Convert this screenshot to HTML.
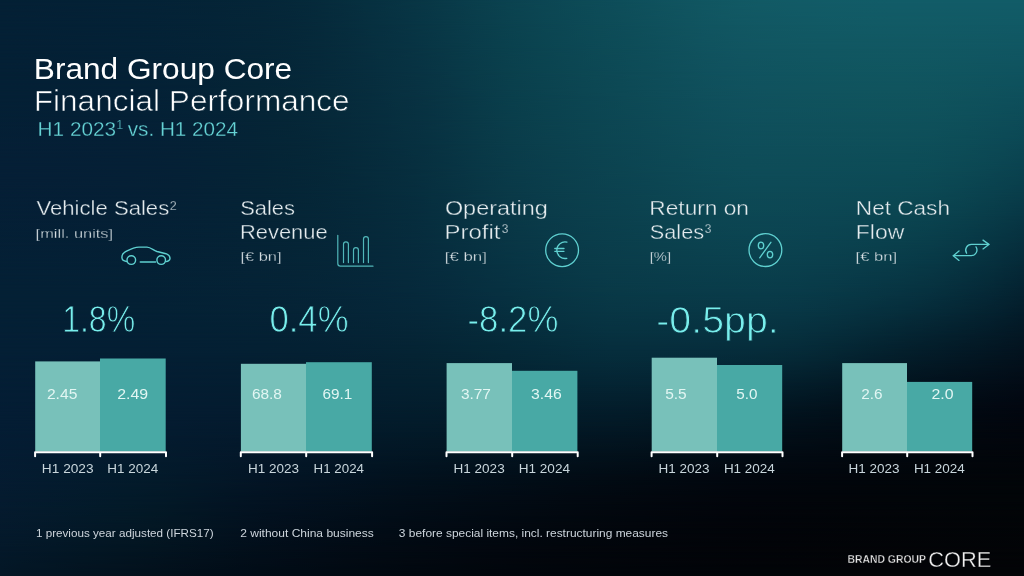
<!DOCTYPE html>
<html lang="en">
<head>
<meta charset="utf-8">
<title>Brand Group Core – Financial Performance H1 2023 vs. H1 2024</title>
<style>
html,body{margin:0;padding:0;background:#03101a;}
body{width:1024px;height:576px;overflow:hidden;position:relative;font-family:"Liberation Sans",Arial,sans-serif;}
.slide{position:absolute;left:0;top:0;width:1024px;height:576px;overflow:hidden;background:#04203a;}
.bg{position:absolute;left:0;top:0;width:1024px;height:576px;}
svg{position:absolute;left:0;top:0;width:1024px;height:576px;display:block;will-change:transform;}
svg text{font-family:"Liberation Sans",Arial,sans-serif;white-space:pre;}
</style>
</head>
<body>
<div class="slide">
<div class="bg" style="background:linear-gradient(to right, rgb(4,32,53) 0px, rgb(4,32.3,53.2) 32px, rgb(4,32.8,53.4) 64px, rgb(4,33.3,53.7) 96px, rgb(4,34,54) 128px, rgb(4,34,54) 130px, rgb(4.1,34.7,54.3) 160px, rgb(4.3,35.5,54.7) 192px, rgb(4.6,36.5,55.2) 224px, rgb(5,37.8,55.9) 256px, rgb(5,38,56) 260px, rgb(5.4,39.8,57.2) 288px, rgb(5.9,42.7,59.5) 320px, rgb(6.5,46.3,62.5) 352px, rgb(7.3,50.2,65.8) 384px, rgb(8,54,69) 415px, rgb(8,54.1,69.1) 416px, rgb(9,58.4,72.7) 448px, rgb(10,63.1,76.6) 480px, rgb(11,67,80) 510px, rgb(11.1,67.2,80.2) 512px, rgb(12,70.7,83.3) 544px, rgb(12.8,73.9,86.2) 576px, rgb(13.7,76.9,89) 608px, rgb(14,78,90) 620px, rgb(14.6,80,91.8) 640px, rgb(15.8,83.3,94.8) 672px, rgb(17,86.5,97.6) 704px, rgb(17.8,89,99.9) 736px, rgb(18,90,101) 760px, rgb(18,90.2,101.3) 768px, rgb(18,90.9,102.3) 800px, rgb(18,91.5,103.1) 832px, rgb(18,91.8,103.7) 864px, rgb(18,92,104) 896px, rgb(18,92,104) 900px, rgb(18,92,104) 928px, rgb(18,92,104) 960px, rgb(18,92,104) 992px, rgb(18,92,104) 1024px);"></div>
<div class="bg" style="background:linear-gradient(to right, rgb(4,32,53) 0px, rgb(4,32.3,53.2) 32px, rgb(4,32.7,53.4) 64px, rgb(4,33.2,53.7) 96px, rgb(4,33.7,54) 128px, rgb(4,33.7,54) 130px, rgb(4.1,34.4,54.3) 160px, rgb(4.3,35.2,54.6) 192px, rgb(4.6,36.3,55.1) 224px, rgb(5,37.6,55.7) 256px, rgb(5,37.7,55.7) 260px, rgb(5.4,39.4,56.9) 288px, rgb(5.9,42.2,59.1) 320px, rgb(6.6,45.5,62) 352px, rgb(7.3,49.2,65.2) 384px, rgb(8,52.9,68.2) 415px, rgb(8,53,68.3) 416px, rgb(8.9,57.3,71.8) 448px, rgb(9.8,62,75.6) 480px, rgb(10.6,66,78.9) 510px, rgb(10.7,66.2,79.1) 512px, rgb(11.6,69.7,82.1) 544px, rgb(12.5,72.8,84.9) 576px, rgb(13.4,75.7,87.6) 608px, rgb(13.7,76.7,88.6) 620px, rgb(14.4,78.6,90.3) 640px, rgb(15.5,81.6,93.3) 672px, rgb(16.5,84.5,96.1) 704px, rgb(17.3,86.7,98.2) 736px, rgb(17.5,87.7,99.1) 760px, rgb(17.5,87.9,99.3) 768px, rgb(17.5,88.7,99.9) 800px, rgb(17.5,89.4,100.5) 832px, rgb(17.6,89.8,100.9) 864px, rgb(17.6,90,101.1) 896px, rgb(17.6,90,101.1) 900px, rgb(17.6,89.9,101.1) 928px, rgb(17.4,89.8,101.1) 960px, rgb(17.2,89.5,101.1) 992px, rgb(17,89.2,101.1) 1024px);-webkit-mask-image:linear-gradient(to bottom, transparent 0px, #000 24px);mask-image:linear-gradient(to bottom, transparent 0px, #000 24px);"></div>
<div class="bg" style="background:linear-gradient(to right, rgb(4,32,53) 0px, rgb(4,32.2,53.2) 32px, rgb(4,32.6,53.4) 64px, rgb(4,33,53.7) 96px, rgb(4,33.5,54) 128px, rgb(4,33.5,54) 130px, rgb(4.1,34,54.3) 160px, rgb(4.3,34.9,54.6) 192px, rgb(4.6,36,54.9) 224px, rgb(5,37.3,55.4) 256px, rgb(5,37.5,55.5) 260px, rgb(5.4,39.1,56.5) 288px, rgb(6,41.7,58.6) 320px, rgb(6.6,44.8,61.4) 352px, rgb(7.3,48.3,64.5) 384px, rgb(8,51.8,67.4) 415px, rgb(8,51.9,67.5) 416px, rgb(8.9,56.2,70.9) 448px, rgb(9.6,61,74.6) 480px, rgb(10.3,64.9,77.8) 510px, rgb(10.3,65.2,78) 512px, rgb(11.2,68.6,80.9) 544px, rgb(12.2,71.6,83.7) 576px, rgb(13.2,74.4,86.3) 608px, rgb(13.5,75.4,87.3) 620px, rgb(14.1,77.1,88.9) 640px, rgb(15.1,79.9,91.8) 672px, rgb(16.1,82.6,94.5) 704px, rgb(16.8,84.6,96.5) 736px, rgb(17,85.6,97.2) 760px, rgb(17,85.8,97.3) 768px, rgb(17,86.6,97.7) 800px, rgb(17,87.2,98) 832px, rgb(17,87.7,98.2) 864px, rgb(17.1,87.9,98.4) 896px, rgb(17.1,87.9,98.4) 900px, rgb(17,87.8,98.4) 928px, rgb(16.8,87.4,98.3) 960px, rgb(16.4,86.8,98.1) 992px, rgb(15.9,86.1,97.9) 1024px);-webkit-mask-image:linear-gradient(to bottom, transparent 24px, #000 48px);mask-image:linear-gradient(to bottom, transparent 24px, #000 48px);"></div>
<div class="bg" style="background:linear-gradient(to right, rgb(4,32,53) 0px, rgb(4,32.2,53.2) 32px, rgb(4,32.4,53.5) 64px, rgb(4,32.8,53.7) 96px, rgb(4,33.2,54) 128px, rgb(4,33.2,54) 130px, rgb(4.1,33.7,54.2) 160px, rgb(4.3,34.6,54.5) 192px, rgb(4.6,35.7,54.7) 224px, rgb(5,37,55.1) 256px, rgb(5,37.2,55.2) 260px, rgb(5.4,38.8,56.1) 288px, rgb(6,41.2,58.1) 320px, rgb(6.6,44.1,60.8) 352px, rgb(7.3,47.4,63.8) 384px, rgb(8,50.7,66.6) 415px, rgb(8,50.9,66.7) 416px, rgb(8.8,55.1,70) 448px, rgb(9.4,59.9,73.6) 480px, rgb(10.1,63.8,76.7) 510px, rgb(10.1,64.1,76.9) 512px, rgb(11,67.4,79.8) 544px, rgb(12,70.4,82.5) 576px, rgb(12.9,73.1,85) 608px, rgb(13.2,74,86) 620px, rgb(13.8,75.7,87.6) 640px, rgb(14.7,78.3,90.4) 672px, rgb(15.6,80.7,93) 704px, rgb(16.3,82.6,94.8) 736px, rgb(16.4,83.5,95.4) 760px, rgb(16.4,83.7,95.4) 768px, rgb(16.4,84.5,95.5) 800px, rgb(16.4,85.1,95.6) 832px, rgb(16.5,85.5,95.7) 864px, rgb(16.5,85.7,95.8) 896px, rgb(16.5,85.7,95.8) 900px, rgb(16.4,85.5,95.8) 928px, rgb(16,84.9,95.5) 960px, rgb(15.5,83.9,95.1) 992px, rgb(14.8,82.7,94.6) 1024px);-webkit-mask-image:linear-gradient(to bottom, transparent 48px, #000 72px);mask-image:linear-gradient(to bottom, transparent 48px, #000 72px);"></div>
<div class="bg" style="background:linear-gradient(to right, rgb(4,32,53) 0px, rgb(4,32.1,53.2) 32px, rgb(4,32.3,53.5) 64px, rgb(4,32.6,53.7) 96px, rgb(4,33,54) 128px, rgb(4,33,54) 130px, rgb(4.1,33.5,54.2) 160px, rgb(4.3,34.4,54.4) 192px, rgb(4.6,35.5,54.6) 224px, rgb(5,36.8,54.9) 256px, rgb(5,37,55) 260px, rgb(5.4,38.5,55.8) 288px, rgb(6,40.8,57.7) 320px, rgb(6.6,43.6,60.3) 352px, rgb(7.3,46.8,63.2) 384px, rgb(8,50,66) 415px, rgb(8,50.1,66.1) 416px, rgb(8.7,54.3,69.3) 448px, rgb(9.3,59.1,72.9) 480px, rgb(10,63,76) 510px, rgb(10,63.2,76.2) 512px, rgb(10.9,66.5,79) 544px, rgb(11.8,69.4,81.7) 576px, rgb(12.7,72.1,84.1) 608px, rgb(13,73,85) 620px, rgb(13.5,74.6,86.6) 640px, rgb(14.4,77.1,89.3) 672px, rgb(15.3,79.4,91.8) 704px, rgb(15.8,81.2,93.5) 736px, rgb(16,82,94) 760px, rgb(16,82.2,94) 768px, rgb(16,82.9,94) 800px, rgb(16,83.4,94) 832px, rgb(16,83.8,94) 864px, rgb(16,84,94) 896px, rgb(16,84,94) 900px, rgb(15.9,83.7,93.9) 928px, rgb(15.4,82.9,93.4) 960px, rgb(14.7,81.6,92.7) 992px, rgb(14,80,92) 1024px);-webkit-mask-image:linear-gradient(to bottom, transparent 72px, #000 90px);mask-image:linear-gradient(to bottom, transparent 72px, #000 90px);"></div>
<div class="bg" style="background:linear-gradient(to right, rgb(4,32,53) 0px, rgb(4,32,53.3) 32px, rgb(4,32.2,53.5) 64px, rgb(4,32.5,53.7) 96px, rgb(4,32.9,54) 128px, rgb(4,32.9,54) 130px, rgb(4.1,33.4,54.2) 160px, rgb(4.3,34.3,54.4) 192px, rgb(4.6,35.4,54.6) 224px, rgb(5,36.8,54.9) 256px, rgb(5,36.9,54.9) 260px, rgb(5.4,38.4,55.7) 288px, rgb(5.9,40.7,57.6) 320px, rgb(6.6,43.5,60.2) 352px, rgb(7.3,46.6,63) 384px, rgb(8,49.8,65.8) 415px, rgb(8,49.9,65.9) 416px, rgb(8.6,54,69.1) 448px, rgb(9.3,58.8,72.7) 480px, rgb(10,62.7,75.8) 510px, rgb(10,62.9,75.9) 512px, rgb(10.9,66.2,78.8) 544px, rgb(11.8,69.1,81.4) 576px, rgb(12.6,71.7,83.8) 608px, rgb(12.9,72.6,84.7) 620px, rgb(13.4,74.2,86.2) 640px, rgb(14.3,76.7,88.9) 672px, rgb(15.1,79,91.4) 704px, rgb(15.7,80.7,93.1) 736px, rgb(15.9,81.5,93.5) 760px, rgb(15.9,81.7,93.5) 768px, rgb(15.9,82.4,93.5) 800px, rgb(15.8,82.9,93.5) 832px, rgb(15.8,83.3,93.5) 864px, rgb(15.8,83.4,93.4) 896px, rgb(15.8,83.4,93.4) 900px, rgb(15.7,83.2,93.3) 928px, rgb(15.2,82.2,92.7) 960px, rgb(14.5,80.8,92) 992px, rgb(13.7,79.1,91.1) 1024px);-webkit-mask-image:linear-gradient(to bottom, transparent 90px, #000 96px);mask-image:linear-gradient(to bottom, transparent 90px, #000 96px);"></div>
<div class="bg" style="background:linear-gradient(to right, rgb(4.3,31.7,53.3) 0px, rgb(4.3,31.7,53.5) 32px, rgb(4.3,31.9,53.7) 64px, rgb(4.3,32.2,53.8) 96px, rgb(4.3,32.5,54) 128px, rgb(4.3,32.5,54) 130px, rgb(4.4,33.1,54.1) 160px, rgb(4.5,33.9,54.3) 192px, rgb(4.7,35.1,54.4) 224px, rgb(5,36.4,54.5) 256px, rgb(5,36.6,54.5) 260px, rgb(5.3,38.1,55.2) 288px, rgb(5.8,40.3,57) 320px, rgb(6.4,42.9,59.4) 352px, rgb(7.1,45.8,62.2) 384px, rgb(7.8,48.9,64.9) 415px, rgb(7.8,49,65) 416px, rgb(8.4,53,68.2) 448px, rgb(9.2,57.8,71.8) 480px, rgb(10,61.6,74.9) 510px, rgb(10,61.8,75.1) 512px, rgb(10.8,65,77.8) 544px, rgb(11.6,67.8,80.4) 576px, rgb(12.4,70.3,82.7) 608px, rgb(12.7,71.2,83.5) 620px, rgb(13.1,72.7,85) 640px, rgb(13.9,75.2,87.5) 672px, rgb(14.7,77.5,89.9) 704px, rgb(15.2,79.1,91.5) 736px, rgb(15.3,79.8,91.8) 760px, rgb(15.3,79.9,91.8) 768px, rgb(15.3,80.4,91.8) 800px, rgb(15.2,80.8,91.7) 832px, rgb(15.1,81.1,91.6) 864px, rgb(15,81.3,91.5) 896px, rgb(15,81.3,91.4) 900px, rgb(14.8,80.9,91.1) 928px, rgb(14.2,79.6,90.2) 960px, rgb(13.4,77.6,89) 992px, rgb(12.5,75.2,87.5) 1024px);-webkit-mask-image:linear-gradient(to bottom, transparent 96px, #000 120px);mask-image:linear-gradient(to bottom, transparent 96px, #000 120px);"></div>
<div class="bg" style="background:linear-gradient(to right, rgb(4.8,31.2,53.8) 0px, rgb(4.8,31.3,53.8) 32px, rgb(4.8,31.5,53.9) 64px, rgb(4.8,31.8,53.9) 96px, rgb(4.8,32.2,54) 128px, rgb(4.8,32.2,54) 130px, rgb(4.8,32.7,54.1) 160px, rgb(4.8,33.6,54.1) 192px, rgb(4.9,34.8,54.2) 224px, rgb(5,36.1,54.2) 256px, rgb(5,36.3,54.2) 260px, rgb(5.2,37.7,54.7) 288px, rgb(5.5,39.8,56.3) 320px, rgb(6.1,42.3,58.7) 352px, rgb(6.7,45.1,61.4) 384px, rgb(7.4,48,64) 415px, rgb(7.4,48.1,64) 416px, rgb(8.2,52.1,67.2) 448px, rgb(9.2,56.7,71) 480px, rgb(10,60.4,74.1) 510px, rgb(10,60.6,74.2) 512px, rgb(10.8,63.7,76.9) 544px, rgb(11.5,66.4,79.4) 576px, rgb(12.1,68.9,81.6) 608px, rgb(12.4,69.8,82.4) 620px, rgb(12.8,71.2,83.8) 640px, rgb(13.5,73.7,86.1) 672px, rgb(14.1,76,88.3) 704px, rgb(14.6,77.6,89.8) 736px, rgb(14.7,78.1,90.1) 760px, rgb(14.7,78.2,90.1) 768px, rgb(14.7,78.5,90) 800px, rgb(14.5,78.7,89.9) 832px, rgb(14.3,78.9,89.8) 864px, rgb(14.1,79,89.6) 896px, rgb(14.1,79,89.5) 900px, rgb(13.7,78.5,89) 928px, rgb(13.1,76.7,87.6) 960px, rgb(12.3,74.1,85.8) 992px, rgb(11.3,71.1,83.7) 1024px);-webkit-mask-image:linear-gradient(to bottom, transparent 120px, #000 144px);mask-image:linear-gradient(to bottom, transparent 120px, #000 144px);"></div>
<div class="bg" style="background:linear-gradient(to right, rgb(5,31,54) 0px, rgb(5,31.1,54) 32px, rgb(5,31.3,54) 64px, rgb(5,31.6,54) 96px, rgb(5,32,54) 128px, rgb(5,32,54) 130px, rgb(5,32.5,54) 160px, rgb(5,33.4,54) 192px, rgb(5,34.5,54) 224px, rgb(5,35.8,54) 256px, rgb(5,36,54) 260px, rgb(5.1,37.4,54.5) 288px, rgb(5.4,39.3,55.9) 320px, rgb(5.9,41.7,58.1) 352px, rgb(6.4,44.3,60.6) 384px, rgb(7,47.1,63.1) 415px, rgb(7,47.2,63.1) 416px, rgb(7.9,51,66.3) 448px, rgb(9.1,55.5,70) 480px, rgb(10,59.1,73.1) 510px, rgb(10,59.3,73.3) 512px, rgb(10.7,62.3,75.9) 544px, rgb(11.3,64.9,78.3) 576px, rgb(11.8,67.3,80.4) 608px, rgb(12,68.1,81.1) 620px, rgb(12.4,69.6,82.4) 640px, rgb(13,72,84.6) 672px, rgb(13.6,74.3,86.5) 704px, rgb(14,75.8,87.8) 736px, rgb(14.1,76.2,88.2) 760px, rgb(14.1,76.2,88.2) 768px, rgb(14,76.2,88.1) 800px, rgb(13.7,76.2,87.9) 832px, rgb(13.5,76.2,87.6) 864px, rgb(13.1,76.3,87.3) 896px, rgb(13.1,76.3,87.2) 900px, rgb(12.7,75.6,86.4) 928px, rgb(12,73.3,84.6) 960px, rgb(11.1,70.1,82.2) 992px, rgb(10.1,66.4,79.4) 1024px);-webkit-mask-image:linear-gradient(to bottom, transparent 144px, #000 168px);mask-image:linear-gradient(to bottom, transparent 144px, #000 168px);"></div>
<div class="bg" style="background:linear-gradient(to right, rgb(5,31,54) 0px, rgb(5,31.1,54) 32px, rgb(5,31.3,54) 64px, rgb(5,31.6,54) 96px, rgb(5,32,54) 128px, rgb(5,32,54) 130px, rgb(5,32.5,54) 160px, rgb(5,33.4,54) 192px, rgb(5,34.5,54) 224px, rgb(5,35.8,54) 256px, rgb(5,36,54) 260px, rgb(5.1,37.4,54.5) 288px, rgb(5.4,39.3,55.9) 320px, rgb(5.9,41.6,58) 352px, rgb(6.4,44.2,60.5) 384px, rgb(7,47,63) 415px, rgb(7,47.1,63.1) 416px, rgb(7.9,50.9,66.2) 448px, rgb(9.1,55.4,69.9) 480px, rgb(10,59,73) 510px, rgb(10,59.2,73.2) 512px, rgb(10.7,62.2,75.8) 544px, rgb(11.3,64.8,78.2) 576px, rgb(11.8,67.2,80.3) 608px, rgb(12,68,81) 620px, rgb(12.3,69.4,82.3) 640px, rgb(13,71.9,84.4) 672px, rgb(13.5,74.1,86.3) 704px, rgb(13.9,75.6,87.7) 736px, rgb(14,76,88) 760px, rgb(14,76,88) 768px, rgb(13.9,76,87.9) 800px, rgb(13.7,76,87.7) 832px, rgb(13.4,76,87.4) 864px, rgb(13,76,87.1) 896px, rgb(13,76,87) 900px, rgb(12.6,75.3,86.2) 928px, rgb(11.9,73,84.4) 960px, rgb(11,69.7,81.9) 992px, rgb(10,66,79) 1024px);-webkit-mask-image:linear-gradient(to bottom, transparent 168px, #000 170px);mask-image:linear-gradient(to bottom, transparent 168px, #000 170px);"></div>
<div class="bg" style="background:linear-gradient(to right, rgb(4.9,31.1,53.9) 0px, rgb(4.9,31.2,53.9) 32px, rgb(4.9,31.4,53.9) 64px, rgb(4.9,31.7,54) 96px, rgb(4.9,32.1,54) 128px, rgb(4.9,32.1,54) 130px, rgb(4.9,32.6,53.9) 160px, rgb(5,33.4,53.9) 192px, rgb(5,34.5,53.9) 224px, rgb(5,35.7,54) 256px, rgb(5,35.8,54) 260px, rgb(5.1,37.1,54.5) 288px, rgb(5.4,38.9,55.8) 320px, rgb(5.8,41,57.7) 352px, rgb(6.3,43.5,60) 384px, rgb(6.8,46.1,62.3) 415px, rgb(6.8,46.2,62.4) 416px, rgb(7.7,49.8,65.4) 448px, rgb(8.9,54.1,69) 480px, rgb(9.9,57.6,72) 510px, rgb(9.9,57.8,72.1) 512px, rgb(10.5,60.7,74.7) 544px, rgb(11,63.4,77) 576px, rgb(11.5,65.7,79) 608px, rgb(11.6,66.4,79.7) 620px, rgb(11.9,67.8,80.8) 640px, rgb(12.4,70.1,82.8) 672px, rgb(12.9,72.1,84.5) 704px, rgb(13.2,73.5,85.7) 736px, rgb(13.3,73.8,86) 760px, rgb(13.3,73.8,86) 768px, rgb(13.2,73.6,85.8) 800px, rgb(12.9,73.4,85.5) 832px, rgb(12.5,73.1,85) 864px, rgb(12.1,72.9,84.4) 896px, rgb(12.1,72.9,84.3) 900px, rgb(11.6,71.9,83.2) 928px, rgb(10.8,69.2,80.9) 960px, rgb(9.9,65.4,77.9) 992px, rgb(8.9,61.1,74.4) 1024px);-webkit-mask-image:linear-gradient(to bottom, transparent 170px, #000 192px);mask-image:linear-gradient(to bottom, transparent 170px, #000 192px);"></div>
<div class="bg" style="background:linear-gradient(to right, rgb(4.7,31.3,53.7) 0px, rgb(4.7,31.4,53.8) 32px, rgb(4.7,31.6,53.8) 64px, rgb(4.7,31.9,53.8) 96px, rgb(4.7,32.3,53.8) 128px, rgb(4.7,32.3,53.8) 130px, rgb(4.8,32.8,53.8) 160px, rgb(4.9,33.5,53.8) 192px, rgb(5,34.4,53.9) 224px, rgb(5,35.5,54) 256px, rgb(5,35.7,54) 260px, rgb(5.1,36.9,54.5) 288px, rgb(5.4,38.5,55.7) 320px, rgb(5.7,40.5,57.5) 352px, rgb(6.2,42.7,59.6) 384px, rgb(6.6,45.1,61.7) 415px, rgb(6.7,45.2,61.8) 416px, rgb(7.4,48.6,64.6) 448px, rgb(8.5,52.6,68) 480px, rgb(9.4,56,70.8) 510px, rgb(9.5,56.2,70.9) 512px, rgb(10.1,59.1,73.4) 544px, rgb(10.6,61.8,75.6) 576px, rgb(11,64,77.5) 608px, rgb(11.2,64.7,78.1) 620px, rgb(11.4,65.9,79.1) 640px, rgb(11.8,67.9,80.8) 672px, rgb(12.1,69.7,82.3) 704px, rgb(12.4,70.8,83.3) 736px, rgb(12.4,71.1,83.6) 760px, rgb(12.4,71,83.6) 768px, rgb(12.3,70.7,83.4) 800px, rgb(12,70.2,82.8) 832px, rgb(11.5,69.6,82) 864px, rgb(11,68.9,81) 896px, rgb(11,68.8,80.9) 900px, rgb(10.4,67.5,79.4) 928px, rgb(9.6,64.3,76.6) 960px, rgb(8.7,59.9,72.9) 992px, rgb(7.5,55,68.6) 1024px);-webkit-mask-image:linear-gradient(to bottom, transparent 192px, #000 216px);mask-image:linear-gradient(to bottom, transparent 192px, #000 216px);"></div>
<div class="bg" style="background:linear-gradient(to right, rgb(4.4,31.6,53.4) 0px, rgb(4.4,31.7,53.5) 32px, rgb(4.4,31.9,53.6) 64px, rgb(4.4,32.2,53.6) 96px, rgb(4.4,32.6,53.6) 128px, rgb(4.4,32.6,53.6) 130px, rgb(4.5,33,53.6) 160px, rgb(4.7,33.6,53.7) 192px, rgb(4.9,34.4,53.8) 224px, rgb(5,35.4,54) 256px, rgb(5,35.5,54) 260px, rgb(5.1,36.6,54.5) 288px, rgb(5.4,38.1,55.6) 320px, rgb(5.7,39.9,57.3) 352px, rgb(6.1,41.9,59.2) 384px, rgb(6.5,44.1,61.1) 415px, rgb(6.5,44.1,61.2) 416px, rgb(7.1,47.2,63.8) 448px, rgb(8,51,66.8) 480px, rgb(8.8,54.2,69.4) 510px, rgb(8.8,54.4,69.5) 512px, rgb(9.5,57.3,71.9) 544px, rgb(10.1,60,74) 576px, rgb(10.5,62.2,75.8) 608px, rgb(10.6,62.8,76.4) 620px, rgb(10.8,63.8,77.2) 640px, rgb(11.1,65.4,78.6) 672px, rgb(11.3,66.9,79.9) 704px, rgb(11.4,67.8,80.7) 736px, rgb(11.5,68,81) 760px, rgb(11.5,68,81) 768px, rgb(11.3,67.5,80.6) 800px, rgb(10.9,66.7,79.7) 832px, rgb(10.4,65.6,78.5) 864px, rgb(9.9,64.3,77.1) 896px, rgb(9.8,64.2,76.9) 900px, rgb(9.3,62.3,75) 928px, rgb(8.4,58.7,71.7) 960px, rgb(7.4,53.9,67.4) 992px, rgb(6.3,48.4,62.4) 1024px);-webkit-mask-image:linear-gradient(to bottom, transparent 216px, #000 240px);mask-image:linear-gradient(to bottom, transparent 216px, #000 240px);"></div>
<div class="bg" style="background:linear-gradient(to right, rgb(4.2,31.8,53.2) 0px, rgb(4.2,32,53.3) 32px, rgb(4.2,32.2,53.3) 64px, rgb(4.2,32.5,53.3) 96px, rgb(4.2,32.8,53.4) 128px, rgb(4.2,32.8,53.4) 130px, rgb(4.3,33.2,53.4) 160px, rgb(4.6,33.7,53.6) 192px, rgb(4.8,34.4,53.7) 224px, rgb(5,35.3,54) 256px, rgb(5,35.4,54) 260px, rgb(5.2,36.3,54.5) 288px, rgb(5.4,37.6,55.5) 320px, rgb(5.7,39.2,57) 352px, rgb(6,40.9,58.7) 384px, rgb(6.3,42.9,60.4) 415px, rgb(6.3,42.9,60.5) 416px, rgb(6.8,45.7,62.7) 448px, rgb(7.4,49.2,65.4) 480px, rgb(8,52.2,67.7) 510px, rgb(8,52.3,67.9) 512px, rgb(8.7,55.2,70.1) 544px, rgb(9.4,58,72.2) 576px, rgb(9.9,60.1,73.9) 608px, rgb(10,60.6,74.3) 620px, rgb(10.1,61.4,75) 640px, rgb(10.2,62.6,76.1) 672px, rgb(10.4,63.6,77.1) 704px, rgb(10.4,64.3,77.7) 736px, rgb(10.5,64.5,77.9) 760px, rgb(10.5,64.4,77.9) 768px, rgb(10.3,63.8,77.4) 800px, rgb(9.8,62.6,76.1) 832px, rgb(9.3,61,74.5) 864px, rgb(8.7,59.2,72.5) 896px, rgb(8.6,58.9,72.3) 900px, rgb(8.1,56.6,70) 928px, rgb(7.2,52.6,66.2) 960px, rgb(6.2,47.5,61.4) 992px, rgb(5.1,41.7,55.9) 1024px);-webkit-mask-image:linear-gradient(to bottom, transparent 240px, #000 264px);mask-image:linear-gradient(to bottom, transparent 240px, #000 264px);"></div>
<div class="bg" style="background:linear-gradient(to right, rgb(4,32,53) 0px, rgb(4,32.1,53.1) 32px, rgb(4,32.4,53.1) 64px, rgb(4,32.7,53.1) 96px, rgb(4,33,53.1) 128px, rgb(4,33,53.1) 130px, rgb(4.1,33.3,53.2) 160px, rgb(4.4,33.8,53.4) 192px, rgb(4.7,34.3,53.6) 224px, rgb(5,35,54) 256px, rgb(5,35.1,54) 260px, rgb(5.2,35.9,54.5) 288px, rgb(5.4,37,55.4) 320px, rgb(5.6,38.3,56.6) 352px, rgb(5.8,39.8,58) 384px, rgb(6.1,41.5,59.4) 415px, rgb(6.1,41.6,59.5) 416px, rgb(6.4,44,61.4) 448px, rgb(6.8,47.1,63.7) 480px, rgb(7.2,49.8,65.8) 510px, rgb(7.3,50,65.9) 512px, rgb(7.9,52.8,68) 544px, rgb(8.7,55.5,70) 576px, rgb(9.2,57.6,71.5) 608px, rgb(9.3,58,71.9) 620px, rgb(9.3,58.5,72.4) 640px, rgb(9.3,59.3,73.2) 672px, rgb(9.4,60,73.8) 704px, rgb(9.4,60.3,74.2) 736px, rgb(9.4,60.5,74.3) 760px, rgb(9.4,60.4,74.3) 768px, rgb(9.1,59.6,73.5) 800px, rgb(8.7,58,71.9) 832px, rgb(8.1,55.8,69.7) 864px, rgb(7.5,53.4,67.3) 896px, rgb(7.4,53.1,66.9) 900px, rgb(6.8,50.4,64.3) 928px, rgb(6.1,46.1,60.1) 960px, rgb(5.2,41,55) 992px, rgb(4.2,35.1,49.2) 1024px);-webkit-mask-image:linear-gradient(to bottom, transparent 264px, #000 288px);mask-image:linear-gradient(to bottom, transparent 264px, #000 288px);"></div>
<div class="bg" style="background:linear-gradient(to right, rgb(4,32,53) 0px, rgb(4,32.2,53) 32px, rgb(4,32.4,53) 64px, rgb(4,32.7,53) 96px, rgb(4,33,53) 128px, rgb(4,33,53) 130px, rgb(4.1,33.3,53.1) 160px, rgb(4.4,33.8,53.3) 192px, rgb(4.7,34.3,53.6) 224px, rgb(5,34.9,54) 256px, rgb(5,35,54) 260px, rgb(5.2,35.7,54.5) 288px, rgb(5.4,36.7,55.3) 320px, rgb(5.6,37.9,56.4) 352px, rgb(5.8,39.4,57.7) 384px, rgb(6,41,59) 415px, rgb(6,41.1,59) 416px, rgb(6.3,43.4,60.8) 448px, rgb(6.6,46.4,63) 480px, rgb(7,49,65) 510px, rgb(7,49.2,65.1) 512px, rgb(7.7,51.9,67.1) 544px, rgb(8.4,54.6,69.1) 576px, rgb(8.9,56.6,70.6) 608px, rgb(9,57,71) 620px, rgb(9,57.5,71.5) 640px, rgb(9,58.1,72.1) 672px, rgb(9,58.6,72.6) 704px, rgb(9,58.9,72.9) 736px, rgb(9,59,73) 760px, rgb(9,59,73) 768px, rgb(8.8,58.1,72.1) 800px, rgb(8.3,56.3,70.3) 832px, rgb(7.7,54,68) 864px, rgb(7.1,51.3,65.3) 896px, rgb(7,51,65) 900px, rgb(6.4,48.2,62.2) 928px, rgb(5.7,43.9,57.9) 960px, rgb(4.9,38.8,52.8) 992px, rgb(4,33,47) 1024px);-webkit-mask-image:linear-gradient(to bottom, transparent 288px, #000 296px);mask-image:linear-gradient(to bottom, transparent 288px, #000 296px);"></div>
<div class="bg" style="background:linear-gradient(to right, rgb(4,31.9,53) 0px, rgb(4,32,52.9) 32px, rgb(4,32.2,52.9) 64px, rgb(4,32.4,52.8) 96px, rgb(4,32.7,52.8) 128px, rgb(4,32.7,52.8) 130px, rgb(4.1,33,52.8) 160px, rgb(4.2,33.4,52.9) 192px, rgb(4.5,33.9,53.2) 224px, rgb(4.8,34.4,53.5) 256px, rgb(4.8,34.5,53.6) 260px, rgb(5,35,54) 288px, rgb(5.2,35.9,54.6) 320px, rgb(5.4,37,55.5) 352px, rgb(5.6,38.3,56.4) 384px, rgb(5.8,39.8,57.5) 415px, rgb(5.8,39.8,57.5) 416px, rgb(6,41.9,59.1) 448px, rgb(6.2,44.6,61.1) 480px, rgb(6.4,47,62.9) 510px, rgb(6.5,47.2,63.1) 512px, rgb(7,49.7,65) 544px, rgb(7.7,52.3,67) 576px, rgb(8.2,54.1,68.4) 608px, rgb(8.2,54.4,68.7) 620px, rgb(8.2,54.8,69) 640px, rgb(8.2,55.2,69.4) 672px, rgb(8.2,55.5,69.7) 704px, rgb(8.2,55.6,69.8) 736px, rgb(8.2,55.6,69.7) 760px, rgb(8.2,55.5,69.7) 768px, rgb(7.9,54.4,68.5) 800px, rgb(7.4,52.2,66.3) 832px, rgb(6.8,49.4,63.4) 864px, rgb(6.2,46.3,60.4) 896px, rgb(6.1,46,60) 900px, rgb(5.6,43,57) 928px, rgb(5,38.8,52.7) 960px, rgb(4.3,34,47.8) 992px, rgb(3.6,28.7,42.3) 1024px);-webkit-mask-image:linear-gradient(to bottom, transparent 296px, #000 312px);mask-image:linear-gradient(to bottom, transparent 296px, #000 312px);"></div>
<div class="bg" style="background:linear-gradient(to right, rgb(4,31.3,53) 0px, rgb(4,31.4,52.8) 32px, rgb(4,31.5,52.7) 64px, rgb(4,31.5,52.5) 96px, rgb(4,31.6,52.3) 128px, rgb(4,31.6,52.3) 130px, rgb(4,31.8,52.2) 160px, rgb(4,32.1,52) 192px, rgb(4.1,32.5,51.9) 224px, rgb(4.2,32.9,52) 256px, rgb(4.2,32.9,52) 260px, rgb(4.3,33.4,52.2) 288px, rgb(4.6,34.2,52.5) 320px, rgb(4.9,35.1,52.9) 352px, rgb(5.2,36.2,53.4) 384px, rgb(5.3,37.4,54) 415px, rgb(5.3,37.5,54) 416px, rgb(5.4,39.2,55.2) 448px, rgb(5.4,41.4,57) 480px, rgb(5.5,43.3,58.7) 510px, rgb(5.5,43.5,58.8) 512px, rgb(5.8,45.6,60.7) 544px, rgb(6.4,47.7,62.6) 576px, rgb(6.7,49.1,63.9) 608px, rgb(6.8,49.3,64.1) 620px, rgb(6.8,49.4,64.2) 640px, rgb(6.8,49.5,64.2) 672px, rgb(6.8,49.5,64) 704px, rgb(6.8,49.3,63.7) 736px, rgb(6.8,49.2,63.3) 760px, rgb(6.8,49,63.1) 768px, rgb(6.5,47.4,61.3) 800px, rgb(5.9,44.5,58.2) 832px, rgb(5.3,40.9,54.6) 864px, rgb(4.7,37.4,50.9) 896px, rgb(4.7,37,50.5) 900px, rgb(4.3,34,47.4) 928px, rgb(3.9,30.4,43.5) 960px, rgb(3.5,26.4,39.3) 992px, rgb(3.2,22.3,35) 1024px);-webkit-mask-image:linear-gradient(to bottom, transparent 312px, #000 336px);mask-image:linear-gradient(to bottom, transparent 312px, #000 336px);"></div>
<div class="bg" style="background:linear-gradient(to right, rgb(4,31,53) 0px, rgb(4,31,52.8) 32px, rgb(4,31,52.5) 64px, rgb(4,31,52.3) 96px, rgb(4,31,52) 128px, rgb(4,31,52) 130px, rgb(4,31.1,51.7) 160px, rgb(4,31.3,51.4) 192px, rgb(4,31.6,51.1) 224px, rgb(4,32,51) 256px, rgb(4,32,51) 260px, rgb(4.1,32.4,51) 288px, rgb(4.3,33.1,51.2) 320px, rgb(4.6,33.9,51.4) 352px, rgb(4.9,34.9,51.7) 384px, rgb(5,36,52) 415px, rgb(5,36,52) 416px, rgb(5,37.5,53) 448px, rgb(5,39.4,54.5) 480px, rgb(5,41,56) 510px, rgb(5,41.1,56.1) 512px, rgb(5.2,42.9,57.8) 544px, rgb(5.6,44.8,59.7) 576px, rgb(6,45.9,60.9) 608px, rgb(6,46,61) 620px, rgb(6,46,61) 640px, rgb(6,45.8,60.7) 672px, rgb(6,45.6,60.2) 704px, rgb(6,45.3,59.6) 736px, rgb(6,45,59) 760px, rgb(6,44.8,58.7) 768px, rgb(5.7,43,56.6) 800px, rgb(5.1,39.8,53.2) 832px, rgb(4.5,36,49.2) 864px, rgb(4,32.4,45.4) 896px, rgb(4,32,45) 900px, rgb(3.7,29.2,42) 928px, rgb(3.4,25.9,38.4) 960px, rgb(3.2,22.5,34.8) 992px, rgb(3,19,31) 1024px);-webkit-mask-image:linear-gradient(to bottom, transparent 336px, #000 350px);mask-image:linear-gradient(to bottom, transparent 336px, #000 350px);"></div>
<div class="bg" style="background:linear-gradient(to right, rgb(4,30.8,53) 0px, rgb(4,30.7,52.7) 32px, rgb(4,30.7,52.3) 64px, rgb(4,30.6,52) 96px, rgb(4,30.6,51.7) 128px, rgb(4,30.6,51.7) 130px, rgb(4,30.6,51.4) 160px, rgb(4,30.8,51) 192px, rgb(4,31,50.6) 224px, rgb(4,31.3,50.4) 256px, rgb(4,31.4,50.4) 260px, rgb(4,31.7,50.3) 288px, rgb(4.2,32.4,50.3) 320px, rgb(4.5,33.1,50.4) 352px, rgb(4.7,34,50.6) 384px, rgb(4.7,35,50.8) 415px, rgb(4.7,35,50.8) 416px, rgb(4.7,36.3,51.5) 448px, rgb(4.7,37.8,52.8) 480px, rgb(4.7,39.2,54.1) 510px, rgb(4.7,39.3,54.2) 512px, rgb(4.8,40.9,55.7) 544px, rgb(5.2,42.5,57.4) 576px, rgb(5.5,43.4,58.4) 608px, rgb(5.5,43.5,58.5) 620px, rgb(5.5,43.4,58.3) 640px, rgb(5.5,43.1,57.8) 672px, rgb(5.4,42.6,57.1) 704px, rgb(5.4,42.1,56.2) 736px, rgb(5.4,41.6,55.4) 760px, rgb(5.4,41.4,55.1) 768px, rgb(5.1,39.4,52.8) 800px, rgb(4.6,36.2,49.3) 832px, rgb(4.1,32.5,45.4) 864px, rgb(3.6,29,41.6) 896px, rgb(3.6,28.6,41.2) 900px, rgb(3.4,25.9,38.3) 928px, rgb(3.2,22.9,35) 960px, rgb(3,19.8,31.6) 992px, rgb(2.8,16.7,28.2) 1024px);-webkit-mask-image:linear-gradient(to bottom, transparent 350px, #000 360px);mask-image:linear-gradient(to bottom, transparent 350px, #000 360px);"></div>
<div class="bg" style="background:linear-gradient(to right, rgb(4,30.1,52.7) 0px, rgb(4,29.9,52.2) 32px, rgb(4,29.8,51.8) 64px, rgb(4,29.6,51.3) 96px, rgb(4,29.5,50.9) 128px, rgb(4,29.5,50.8) 130px, rgb(4,29.4,50.4) 160px, rgb(4,29.4,49.8) 192px, rgb(4,29.5,49.3) 224px, rgb(4,29.7,48.9) 256px, rgb(4,29.8,48.9) 260px, rgb(4,30,48.6) 288px, rgb(4,30.5,48.4) 320px, rgb(4,31.1,48.2) 352px, rgb(4,31.8,48) 384px, rgb(4,32.4,47.9) 415px, rgb(4,32.4,47.9) 416px, rgb(4,33.1,48.1) 448px, rgb(3.9,33.8,48.6) 480px, rgb(3.9,34.5,49.1) 510px, rgb(3.9,34.5,49.2) 512px, rgb(4,35.3,49.9) 544px, rgb(4.1,36.1,50.7) 576px, rgb(4.3,36.5,51.1) 608px, rgb(4.3,36.4,51) 620px, rgb(4.3,36.2,50.6) 640px, rgb(4.1,35.3,49.4) 672px, rgb(3.8,34.2,47.9) 704px, rgb(3.6,32.9,46.2) 736px, rgb(3.6,31.9,44.9) 760px, rgb(3.6,31.5,44.4) 768px, rgb(3.4,29.3,41.8) 800px, rgb(3.2,26.4,38.5) 832px, rgb(2.9,23.3,35) 864px, rgb(2.7,20.4,31.8) 896px, rgb(2.7,20.1,31.5) 900px, rgb(2.6,17.9,29.1) 928px, rgb(2.5,15.5,26.4) 960px, rgb(2.4,13.2,23.9) 992px, rgb(2.4,11,21.4) 1024px);-webkit-mask-image:linear-gradient(to bottom, transparent 360px, #000 384px);mask-image:linear-gradient(to bottom, transparent 360px, #000 384px);"></div>
<div class="bg" style="background:linear-gradient(to right, rgb(4,29.3,52.3) 0px, rgb(4,29.1,51.6) 32px, rgb(4,28.9,51) 64px, rgb(4,28.7,50.4) 96px, rgb(4,28.4,49.7) 128px, rgb(4,28.4,49.7) 130px, rgb(4,28.2,49.1) 160px, rgb(4,28.1,48.4) 192px, rgb(4,28,47.7) 224px, rgb(4,28,47.1) 256px, rgb(4,28,47.1) 260px, rgb(4,28.1,46.6) 288px, rgb(3.8,28.5,46.2) 320px, rgb(3.6,28.9,45.7) 352px, rgb(3.3,29.3,45.3) 384px, rgb(3.3,29.6,44.8) 415px, rgb(3.3,29.6,44.8) 416px, rgb(3.3,29.7,44.4) 448px, rgb(3.3,29.6,44.1) 480px, rgb(3.2,29.5,43.8) 510px, rgb(3.2,29.4,43.8) 512px, rgb(3.3,29.5,43.6) 544px, rgb(3.3,29.5,43.5) 576px, rgb(3.3,29.4,43.1) 608px, rgb(3.3,29.2,42.9) 620px, rgb(3.3,28.8,42.2) 640px, rgb(3,27.5,40.5) 672px, rgb(2.6,25.8,38.3) 704px, rgb(2.3,23.9,35.9) 736px, rgb(2.2,22.5,34.2) 760px, rgb(2.2,22,33.7) 768px, rgb(2.2,20,31.2) 800px, rgb(2.2,17.7,28.4) 832px, rgb(2.1,15.4,25.7) 864px, rgb(2.1,13.3,23.3) 896px, rgb(2.1,13.1,23) 900px, rgb(2.1,11.5,21.2) 928px, rgb(2.1,9.8,19.2) 960px, rgb(2.1,8.3,17.4) 992px, rgb(2.1,6.8,15.8) 1024px);-webkit-mask-image:linear-gradient(to bottom, transparent 384px, #000 408px);mask-image:linear-gradient(to bottom, transparent 384px, #000 408px);"></div>
<div class="bg" style="background:linear-gradient(to right, rgb(4,29,52) 0px, rgb(4,28.8,51.3) 32px, rgb(4,28.5,50.5) 64px, rgb(4,28.3,49.8) 96px, rgb(4,28,49) 128px, rgb(4,28,49) 130px, rgb(4,27.7,48.3) 160px, rgb(4,27.4,47.5) 192px, rgb(4,27.1,46.8) 224px, rgb(4,27,46.1) 256px, rgb(4,27,46) 260px, rgb(3.9,27.1,45.4) 288px, rgb(3.7,27.3,44.8) 320px, rgb(3.4,27.6,44.2) 352px, rgb(3.1,27.9,43.6) 384px, rgb(3,28,43) 415px, rgb(3,28,43) 416px, rgb(3,27.8,42.3) 448px, rgb(3,27.4,41.6) 480px, rgb(3,27,41) 510px, rgb(3,27,41) 512px, rgb(3,26.7,40.4) 544px, rgb(3,26.5,39.9) 576px, rgb(3,26.2,39.3) 608px, rgb(3,26,39) 620px, rgb(2.9,25.5,38.3) 640px, rgb(2.7,24.2,36.4) 672px, rgb(2.4,22.3,34.2) 704px, rgb(2.1,20.4,31.7) 736px, rgb(2,19,30) 760px, rgb(2,18.6,29.4) 768px, rgb(2,16.7,27.1) 800px, rgb(2,14.8,24.7) 832px, rgb(2,12.9,22.3) 864px, rgb(2,11.2,20.2) 896px, rgb(2,11,20) 900px, rgb(2,9.7,18.4) 928px, rgb(2,8.4,16.8) 960px, rgb(2,7.1,15.3) 992px, rgb(2,6,14) 1024px);-webkit-mask-image:linear-gradient(to bottom, transparent 408px, #000 420px);mask-image:linear-gradient(to bottom, transparent 408px, #000 420px);"></div>
<div class="bg" style="background:linear-gradient(to right, rgb(4.1,28.7,51.6) 0px, rgb(4,28.5,50.8) 32px, rgb(4,28.2,49.9) 64px, rgb(4,28,49.1) 96px, rgb(3.9,27.7,48.2) 128px, rgb(3.9,27.7,48.2) 130px, rgb(3.9,27.3,47.4) 160px, rgb(4,26.8,46.5) 192px, rgb(4,26.3,45.6) 224px, rgb(4,26,44.8) 256px, rgb(4,25.9,44.7) 260px, rgb(3.8,25.9,44) 288px, rgb(3.5,26,43.2) 320px, rgb(3.2,26.1,42.4) 352px, rgb(2.9,26.2,41.6) 384px, rgb(2.8,26.1,40.7) 415px, rgb(2.8,26.1,40.7) 416px, rgb(2.8,25.7,39.8) 448px, rgb(2.8,25,38.8) 480px, rgb(2.8,24.4,37.9) 510px, rgb(2.8,24.4,37.9) 512px, rgb(2.8,23.9,37) 544px, rgb(2.8,23.5,36.2) 576px, rgb(2.8,23,35.4) 608px, rgb(2.8,22.8,35) 620px, rgb(2.7,22.3,34.3) 640px, rgb(2.5,20.9,32.4) 672px, rgb(2.3,19.2,30.2) 704px, rgb(2.1,17.3,27.9) 736px, rgb(2,16.1,26.3) 760px, rgb(2,15.7,25.8) 768px, rgb(2,14.2,23.7) 800px, rgb(2,12.6,21.6) 832px, rgb(2,11.1,19.6) 864px, rgb(2,9.8,17.9) 896px, rgb(2,9.6,17.7) 900px, rgb(2,8.6,16.3) 928px, rgb(2,7.5,15) 960px, rgb(2,6.6,13.7) 992px, rgb(2,5.8,12.7) 1024px);-webkit-mask-image:linear-gradient(to bottom, transparent 420px, #000 432px);mask-image:linear-gradient(to bottom, transparent 420px, #000 432px);"></div>
<div class="bg" style="background:linear-gradient(to right, rgb(4.4,28.2,50.4) 0px, rgb(4.1,28,49.3) 32px, rgb(3.9,27.8,48.3) 64px, rgb(3.7,27.5,47.2) 96px, rgb(3.6,27.2,46.1) 128px, rgb(3.6,27.2,46) 130px, rgb(3.6,26.6,45) 160px, rgb(3.6,25.6,43.8) 192px, rgb(3.7,24.5,42.6) 224px, rgb(3.7,23.6,41.4) 256px, rgb(3.7,23.5,41.2) 260px, rgb(3.6,23.1,40.1) 288px, rgb(3.2,22.7,38.9) 320px, rgb(2.8,22.4,37.6) 352px, rgb(2.5,22,36.3) 384px, rgb(2.4,21.5,35.1) 415px, rgb(2.4,21.5,35) 416px, rgb(2.4,20.7,33.6) 448px, rgb(2.4,19.7,32.2) 480px, rgb(2.4,18.9,30.8) 510px, rgb(2.4,18.8,30.8) 512px, rgb(2.4,18,29.4) 544px, rgb(2.4,17.2,28.1) 576px, rgb(2.4,16.5,26.9) 608px, rgb(2.4,16.2,26.4) 620px, rgb(2.3,15.6,25.6) 640px, rgb(2.2,14.3,23.9) 672px, rgb(2.1,12.8,22.1) 704px, rgb(2,11.4,20.4) 736px, rgb(2,10.7,19.2) 760px, rgb(2,10.4,18.8) 768px, rgb(2,9.6,17.4) 800px, rgb(2,8.8,16) 832px, rgb(2,8.1,14.8) 864px, rgb(2,7.4,13.7) 896px, rgb(2,7.3,13.5) 900px, rgb(2,6.8,12.7) 928px, rgb(2,6.3,11.8) 960px, rgb(2,5.8,11) 992px, rgb(2,5.4,10.4) 1024px);-webkit-mask-image:linear-gradient(to bottom, transparent 432px, #000 456px);mask-image:linear-gradient(to bottom, transparent 432px, #000 456px);"></div>
<div class="bg" style="background:linear-gradient(to right, rgb(4.8,27.6,48.6) 0px, rgb(4.2,27.5,47.4) 32px, rgb(3.8,27.3,46.2) 64px, rgb(3.4,27,44.9) 96px, rgb(3.2,26.7,43.5) 128px, rgb(3.2,26.7,43.4) 130px, rgb(3.2,25.9,42.1) 160px, rgb(3.2,24.4,40.6) 192px, rgb(3.3,22.7,39) 224px, rgb(3.3,21.2,37.4) 256px, rgb(3.3,21,37.2) 260px, rgb(3.2,20.2,35.8) 288px, rgb(2.9,19.3,34.1) 320px, rgb(2.5,18.5,32.4) 352px, rgb(2.2,17.7,30.7) 384px, rgb(2.1,16.9,29.1) 415px, rgb(2.1,16.9,29) 416px, rgb(2.1,15.9,27.3) 448px, rgb(2.1,14.8,25.6) 480px, rgb(2.1,13.9,24.1) 510px, rgb(2.1,13.8,24) 512px, rgb(2.1,12.8,22.4) 544px, rgb(2.1,11.9,20.8) 576px, rgb(2.1,10.9,19.3) 608px, rgb(2.1,10.6,18.8) 620px, rgb(2.1,10,18) 640px, rgb(2.1,8.9,16.7) 672px, rgb(2,7.8,15.5) 704px, rgb(2,6.9,14.3) 736px, rgb(2,6.6,13.6) 760px, rgb(2,6.5,13.4) 768px, rgb(2,6.3,12.5) 800px, rgb(2,6.1,11.8) 832px, rgb(2,5.9,11.1) 864px, rgb(2,5.8,10.5) 896px, rgb(2,5.7,10.5) 900px, rgb(2,5.6,10) 928px, rgb(2,5.5,9.5) 960px, rgb(2,5.3,9.1) 992px, rgb(2,5.2,8.8) 1024px);-webkit-mask-image:linear-gradient(to bottom, transparent 456px, #000 480px);mask-image:linear-gradient(to bottom, transparent 456px, #000 480px);"></div>
<div class="bg" style="background:linear-gradient(to right, rgb(5,27,47) 0px, rgb(4.3,26.9,45.6) 32px, rgb(3.6,26.7,44.2) 64px, rgb(3.2,26.4,42.7) 96px, rgb(3,26,41.1) 128px, rgb(3,26,41) 130px, rgb(3,25,39.5) 160px, rgb(3,23.1,37.8) 192px, rgb(3,21,36) 224px, rgb(3,19.2,34.2) 256px, rgb(3,19,34) 260px, rgb(2.9,17.9,32.4) 288px, rgb(2.7,16.9,30.5) 320px, rgb(2.4,15.9,28.6) 352px, rgb(2.1,15,26.8) 384px, rgb(2,14,25) 415px, rgb(2,14,24.9) 416px, rgb(2,12.9,23.2) 448px, rgb(2,11.9,21.5) 480px, rgb(2,11,20) 510px, rgb(2,10.9,19.9) 512px, rgb(2,10,18.3) 544px, rgb(2,9.1,16.8) 576px, rgb(2,8.3,15.4) 608px, rgb(2,8,15) 620px, rgb(2,7.5,14.3) 640px, rgb(2,6.6,13.3) 672px, rgb(2,5.7,12.3) 704px, rgb(2,5.2,11.5) 736px, rgb(2,5,11) 760px, rgb(2,5,10.9) 768px, rgb(2,5,10.3) 800px, rgb(2,5,9.8) 832px, rgb(2,5,9.4) 864px, rgb(2,5,9) 896px, rgb(2,5,9) 900px, rgb(2,5,8.7) 928px, rgb(2,5,8.4) 960px, rgb(2,5,8.2) 992px, rgb(2,5,8) 1024px);-webkit-mask-image:linear-gradient(to bottom, transparent 480px, #000 500px);mask-image:linear-gradient(to bottom, transparent 480px, #000 500px);"></div>
<div class="bg" style="background:linear-gradient(to right, rgb(5,26.9,46.7) 0px, rgb(4.3,26.8,45.2) 32px, rgb(3.6,26.6,43.7) 64px, rgb(3.2,26.2,42.2) 96px, rgb(3,25.8,40.6) 128px, rgb(3,25.8,40.5) 130px, rgb(3,24.8,38.9) 160px, rgb(3,22.8,37.2) 192px, rgb(3,20.6,35.4) 224px, rgb(2.9,18.8,33.6) 256px, rgb(2.9,18.6,33.4) 260px, rgb(2.9,17.5,31.8) 288px, rgb(2.6,16.5,29.9) 320px, rgb(2.3,15.5,28) 352px, rgb(2.1,14.5,26.1) 384px, rgb(2,13.6,24.3) 415px, rgb(2,13.5,24.3) 416px, rgb(2,12.5,22.6) 448px, rgb(2,11.5,20.9) 480px, rgb(2,10.6,19.4) 510px, rgb(2,10.5,19.3) 512px, rgb(2,9.7,17.8) 544px, rgb(2,8.8,16.3) 576px, rgb(2,8,15) 608px, rgb(2,7.7,14.6) 620px, rgb(2,7.2,13.9) 640px, rgb(2,6.4,12.9) 672px, rgb(2,5.6,12) 704px, rgb(2,5,11.2) 736px, rgb(2,4.9,10.7) 760px, rgb(2,4.9,10.6) 768px, rgb(2,4.9,10.1) 800px, rgb(2,4.9,9.6) 832px, rgb(2,4.9,9.2) 864px, rgb(2,4.9,8.9) 896px, rgb(2,4.9,8.8) 900px, rgb(2,4.9,8.6) 928px, rgb(2,4.9,8.3) 960px, rgb(2,4.9,8.1) 992px, rgb(2,4.9,7.9) 1024px);-webkit-mask-image:linear-gradient(to bottom, transparent 500px, #000 504px);mask-image:linear-gradient(to bottom, transparent 500px, #000 504px);"></div>
<div class="bg" style="background:linear-gradient(to right, rgb(4.7,25.8,44.3) 0px, rgb(4.1,25.5,42.6) 32px, rgb(3.4,25,40.8) 64px, rgb(3.1,24.5,39.1) 96px, rgb(3,23.9,37.3) 128px, rgb(3,23.8,37.2) 130px, rgb(2.9,22.7,35.5) 160px, rgb(2.8,20.6,33.6) 192px, rgb(2.7,18.4,31.7) 224px, rgb(2.6,16.5,29.9) 256px, rgb(2.6,16.4,29.6) 260px, rgb(2.6,15.2,28) 288px, rgb(2.4,14.1,26.1) 320px, rgb(2.2,13.1,24.2) 352px, rgb(2,12.1,22.3) 384px, rgb(2,11.2,20.6) 415px, rgb(2,11.1,20.6) 416px, rgb(2,10.1,18.9) 448px, rgb(2,9.2,17.4) 480px, rgb(2,8.4,16.1) 510px, rgb(2,8.3,16) 512px, rgb(2,7.7,14.6) 544px, rgb(2,7.1,13.5) 576px, rgb(2,6.5,12.6) 608px, rgb(2,6.3,12.3) 620px, rgb(2,6,11.8) 640px, rgb(2,5.4,11) 672px, rgb(2,4.9,10.3) 704px, rgb(2,4.5,9.7) 736px, rgb(2,4.4,9.3) 760px, rgb(2,4.4,9.2) 768px, rgb(2,4.4,8.8) 800px, rgb(2.1,4.4,8.4) 832px, rgb(2.2,4.4,8.1) 864px, rgb(2.2,4.4,7.9) 896px, rgb(2.2,4.4,7.9) 900px, rgb(2.2,4.5,7.8) 928px, rgb(2.2,4.5,7.6) 960px, rgb(2.2,4.5,7.5) 992px, rgb(2.2,4.6,7.4) 1024px);-webkit-mask-image:linear-gradient(to bottom, transparent 504px, #000 528px);mask-image:linear-gradient(to bottom, transparent 504px, #000 528px);"></div>
<div class="bg" style="background:linear-gradient(to right, rgb(4,24.5,41.3) 0px, rgb(3.6,23.6,39.3) 32px, rgb(3.2,22.7,37.3) 64px, rgb(3,21.8,35.3) 96px, rgb(3,20.8,33.4) 128px, rgb(3,20.8,33.3) 130px, rgb(2.9,19.5,31.5) 160px, rgb(2.6,17.7,29.7) 192px, rgb(2.4,15.9,27.9) 224px, rgb(2.3,14.3,26.1) 256px, rgb(2.3,14.1,25.9) 260px, rgb(2.3,13.1,24.3) 288px, rgb(2.2,12,22.5) 320px, rgb(2.1,11.1,20.7) 352px, rgb(2,10.1,19) 384px, rgb(2,9.2,17.5) 415px, rgb(2,9.2,17.4) 416px, rgb(2,8.3,16) 448px, rgb(2,7.4,14.6) 480px, rgb(2,6.7,13.4) 510px, rgb(2,6.6,13.4) 512px, rgb(2,6.2,12.3) 544px, rgb(2,5.8,11.5) 576px, rgb(2,5.5,10.9) 608px, rgb(2,5.4,10.6) 620px, rgb(2,5.1,10.2) 640px, rgb(2,4.8,9.7) 672px, rgb(2,4.4,9.1) 704px, rgb(2,4.2,8.6) 736px, rgb(2,4.1,8.4) 760px, rgb(2,4.1,8.3) 768px, rgb(2.1,4.1,7.9) 800px, rgb(2.3,4.1,7.6) 832px, rgb(2.5,4.1,7.4) 864px, rgb(2.5,4.1,7.3) 896px, rgb(2.5,4.1,7.2) 900px, rgb(2.5,4.1,7.2) 928px, rgb(2.5,4.1,7.2) 960px, rgb(2.5,4.2,7.1) 992px, rgb(2.5,4.3,7.1) 1024px);-webkit-mask-image:linear-gradient(to bottom, transparent 528px, #000 552px);mask-image:linear-gradient(to bottom, transparent 528px, #000 552px);"></div>
<div class="bg" style="background:linear-gradient(to right, rgb(3,23,38) 0px, rgb(3,21.4,35.6) 32px, rgb(3,19.9,33.3) 64px, rgb(3,18.5,31.1) 96px, rgb(3,17.1,29.1) 128px, rgb(3,17,29) 130px, rgb(2.9,15.7,27.2) 160px, rgb(2.5,14.4,25.5) 192px, rgb(2.2,13.2,23.8) 224px, rgb(2,12.1,22.2) 256px, rgb(2,12,22) 260px, rgb(2,11.2,20.6) 288px, rgb(2,10.3,19.1) 320px, rgb(2,9.5,17.6) 352px, rgb(2,8.7,16.2) 384px, rgb(2,8,15) 415px, rgb(2,8,15) 416px, rgb(2,7.2,13.8) 448px, rgb(2,6.5,12.8) 480px, rgb(2,6,12) 510px, rgb(2,6,12) 512px, rgb(2,5.6,11.3) 544px, rgb(2,5.3,10.7) 576px, rgb(2,5.1,10.2) 608px, rgb(2,5,10) 620px, rgb(2,4.8,9.7) 640px, rgb(2,4.5,9.2) 672px, rgb(2,4.2,8.7) 704px, rgb(2,4.1,8.3) 736px, rgb(2,4,8) 760px, rgb(2,4,7.9) 768px, rgb(2.2,4,7.6) 800px, rgb(2.5,4,7.3) 832px, rgb(2.8,4,7.1) 864px, rgb(3,4,7) 896px, rgb(3,4,7) 900px, rgb(3,4,7) 928px, rgb(3,4,7) 960px, rgb(3,4,7) 992px, rgb(3,4,7) 1024px);-webkit-mask-image:linear-gradient(to bottom, transparent 552px, #000 576px);mask-image:linear-gradient(to bottom, transparent 552px, #000 576px);"></div>
<svg width="1024" height="576" viewBox="0 0 1024 576">
<defs>
<linearGradient id="g0" gradientUnits="userSpaceOnUse" x1="33.3" y1="0" x2="351.3" y2="0"><stop offset="0.000" stop-color="rgb(4,32,53)"/><stop offset="0.143" stop-color="rgb(4,32,54)"/><stop offset="0.286" stop-color="rgb(4,33,54)"/><stop offset="0.429" stop-color="rgb(4,34,54)"/><stop offset="0.571" stop-color="rgb(5,35,55)"/><stop offset="0.714" stop-color="rgb(5,37,55)"/><stop offset="0.857" stop-color="rgb(6,40,58)"/><stop offset="1.000" stop-color="rgb(7,44,61)"/></linearGradient>
<linearGradient id="g1" gradientUnits="userSpaceOnUse" x1="36.3" y1="0" x2="118.3" y2="0"><stop offset="0.000" stop-color="rgb(4,32,54)"/><stop offset="1.000" stop-color="rgb(4,32,54)"/></linearGradient>
<linearGradient id="g2" gradientUnits="userSpaceOnUse" x1="115.3" y1="0" x2="124.3" y2="0"><stop offset="0.000" stop-color="rgb(4,32,54)"/><stop offset="1.000" stop-color="rgb(4,32,54)"/></linearGradient>
<linearGradient id="g3" gradientUnits="userSpaceOnUse" x1="124.8" y1="0" x2="240.5" y2="0"><stop offset="0.000" stop-color="rgb(4,33,54)"/><stop offset="0.500" stop-color="rgb(5,34,54)"/><stop offset="1.000" stop-color="rgb(5,36,54)"/></linearGradient>
<linearGradient id="g4" gradientUnits="userSpaceOnUse" x1="33.6" y1="0" x2="171.4" y2="0"><stop offset="0.000" stop-color="rgb(5,32,54)"/><stop offset="0.333" stop-color="rgb(5,32,54)"/><stop offset="0.667" stop-color="rgb(5,32,54)"/><stop offset="1.000" stop-color="rgb(5,33,54)"/></linearGradient>
<linearGradient id="g5" gradientUnits="userSpaceOnUse" x1="167.2" y1="0" x2="179.3" y2="0"><stop offset="0.000" stop-color="rgb(5,33,54)"/><stop offset="1.000" stop-color="rgb(5,34,54)"/></linearGradient>
<linearGradient id="g6" gradientUnits="userSpaceOnUse" x1="33.8" y1="0" x2="115.0" y2="0"><stop offset="0.000" stop-color="rgb(4,32,53)"/><stop offset="1.000" stop-color="rgb(4,32,53)"/></linearGradient>
<linearGradient id="g7" gradientUnits="userSpaceOnUse" x1="238.2" y1="0" x2="297.2" y2="0"><stop offset="0.000" stop-color="rgb(5,35,54)"/><stop offset="1.000" stop-color="rgb(5,38,56)"/></linearGradient>
<linearGradient id="g8" gradientUnits="userSpaceOnUse" x1="238.7" y1="0" x2="329.7" y2="0"><stop offset="0.000" stop-color="rgb(5,35,54)"/><stop offset="0.500" stop-color="rgb(5,37,55)"/><stop offset="1.000" stop-color="rgb(6,39,57)"/></linearGradient>
<linearGradient id="g9" gradientUnits="userSpaceOnUse" x1="238.6" y1="0" x2="283.4" y2="0"><stop offset="0.000" stop-color="rgb(5,35,54)"/><stop offset="1.000" stop-color="rgb(5,36,55)"/></linearGradient>
<linearGradient id="g10" gradientUnits="userSpaceOnUse" x1="443.0" y1="0" x2="549.3" y2="0"><stop offset="0.000" stop-color="rgb(7,49,65)"/><stop offset="0.500" stop-color="rgb(9,54,69)"/><stop offset="1.000" stop-color="rgb(10,59,73)"/></linearGradient>
<linearGradient id="g11" gradientUnits="userSpaceOnUse" x1="443.5" y1="0" x2="503.2" y2="0"><stop offset="0.000" stop-color="rgb(7,47,64)"/><stop offset="1.000" stop-color="rgb(8,53,68)"/></linearGradient>
<linearGradient id="g12" gradientUnits="userSpaceOnUse" x1="498.7" y1="0" x2="511.5" y2="0"><stop offset="0.000" stop-color="rgb(8,53,69)"/><stop offset="1.000" stop-color="rgb(9,54,69)"/></linearGradient>
<linearGradient id="g13" gradientUnits="userSpaceOnUse" x1="443.0" y1="0" x2="488.7" y2="0"><stop offset="0.000" stop-color="rgb(7,46,63)"/><stop offset="1.000" stop-color="rgb(8,50,66)"/></linearGradient>
<linearGradient id="g14" gradientUnits="userSpaceOnUse" x1="648.2" y1="0" x2="750.5" y2="0"><stop offset="0.000" stop-color="rgb(11,66,79)"/><stop offset="0.500" stop-color="rgb(12,68,81)"/><stop offset="1.000" stop-color="rgb(12,70,83)"/></linearGradient>
<linearGradient id="g15" gradientUnits="userSpaceOnUse" x1="647.8" y1="0" x2="706.3" y2="0"><stop offset="0.000" stop-color="rgb(11,64,77)"/><stop offset="1.000" stop-color="rgb(11,66,79)"/></linearGradient>
<linearGradient id="g16" gradientUnits="userSpaceOnUse" x1="701.9" y1="0" x2="714.3" y2="0"><stop offset="0.000" stop-color="rgb(11,66,79)"/><stop offset="1.000" stop-color="rgb(11,66,79)"/></linearGradient>
<linearGradient id="g17" gradientUnits="userSpaceOnUse" x1="647.8" y1="0" x2="673.0" y2="0"><stop offset="0.000" stop-color="rgb(10,61,75)"/><stop offset="1.000" stop-color="rgb(10,62,75)"/></linearGradient>
<linearGradient id="g18" gradientUnits="userSpaceOnUse" x1="854.7" y1="0" x2="951.5" y2="0"><stop offset="0.000" stop-color="rgb(12,69,81)"/><stop offset="0.500" stop-color="rgb(11,68,80)"/><stop offset="1.000" stop-color="rgb(10,64,76)"/></linearGradient>
<linearGradient id="g19" gradientUnits="userSpaceOnUse" x1="854.7" y1="0" x2="907.3" y2="0"><stop offset="0.000" stop-color="rgb(11,65,78)"/><stop offset="1.000" stop-color="rgb(10,63,76)"/></linearGradient>
<linearGradient id="g20" gradientUnits="userSpaceOnUse" x1="853.8" y1="0" x2="899.0" y2="0"><stop offset="0.000" stop-color="rgb(9,61,74)"/><stop offset="1.000" stop-color="rgb(9,59,72)"/></linearGradient>
<linearGradient id="g21" gradientUnits="userSpaceOnUse" x1="61.6" y1="0" x2="137.0" y2="0"><stop offset="0.000" stop-color="rgb(4,32,53)"/><stop offset="1.000" stop-color="rgb(4,32,53)"/></linearGradient>
<linearGradient id="g22" gradientUnits="userSpaceOnUse" x1="267.8" y1="0" x2="350.3" y2="0"><stop offset="0.000" stop-color="rgb(5,34,53)"/><stop offset="1.000" stop-color="rgb(5,37,55)"/></linearGradient>
<linearGradient id="g23" gradientUnits="userSpaceOnUse" x1="466.0" y1="0" x2="560.2" y2="0"><stop offset="0.000" stop-color="rgb(6,43,59)"/><stop offset="0.500" stop-color="rgb(6,46,61)"/><stop offset="1.000" stop-color="rgb(7,49,64)"/></linearGradient>
<linearGradient id="g24" gradientUnits="userSpaceOnUse" x1="655.0" y1="0" x2="778.2" y2="0"><stop offset="0.000" stop-color="rgb(8,52,67)"/><stop offset="0.500" stop-color="rgb(8,52,67)"/><stop offset="1.000" stop-color="rgb(7,52,66)"/></linearGradient>
<linearGradient id="g25" gradientUnits="userSpaceOnUse" x1="845.1" y1="0" x2="928.6" y2="0"><stop offset="0.000" stop-color="rgb(2,4,8)"/><stop offset="1.000" stop-color="rgb(3,4,7)"/></linearGradient>
<linearGradient id="g26" gradientUnits="userSpaceOnUse" x1="926.4" y1="0" x2="993.3" y2="0"><stop offset="0.000" stop-color="rgb(3,4,7)"/><stop offset="1.000" stop-color="rgb(3,4,7)"/></linearGradient>
</defs>
<g id="bars">
<rect x="35.2" y="361.4" width="64.8" height="90.2" fill="#78c1ba"/>
<rect x="100.0" y="358.5" width="65.7" height="93.1" fill="#48a9a5"/>
<path d="M35.1 456.2V452.3H166.0V456.2M100.2 452.3V456.2" fill="none" stroke="#fff" stroke-width="2" stroke-linecap="round" stroke-linejoin="round"/>
<rect x="240.9" y="363.8" width="65.1" height="87.8" fill="#78c1ba"/>
<rect x="306.0" y="362.2" width="65.8" height="89.4" fill="#48a9a5"/>
<path d="M240.8 456.2V452.3H372.1V456.2M306.2 452.3V456.2" fill="none" stroke="#fff" stroke-width="2" stroke-linecap="round" stroke-linejoin="round"/>
<rect x="446.6" y="363.1" width="65.4" height="88.5" fill="#78c1ba"/>
<rect x="512.0" y="370.8" width="65.4" height="80.8" fill="#48a9a5"/>
<path d="M446.5 456.2V452.3H577.7V456.2M512.2 452.3V456.2" fill="none" stroke="#fff" stroke-width="2" stroke-linecap="round" stroke-linejoin="round"/>
<rect x="651.7" y="357.7" width="65.3" height="93.9" fill="#78c1ba"/>
<rect x="717.0" y="365.0" width="65.2" height="86.6" fill="#48a9a5"/>
<path d="M651.6 456.2V452.3H782.5V456.2M717.2 452.3V456.2" fill="none" stroke="#fff" stroke-width="2" stroke-linecap="round" stroke-linejoin="round"/>
<rect x="842.2" y="363.1" width="64.8" height="88.5" fill="#78c1ba"/>
<rect x="907.0" y="381.9" width="65.2" height="69.7" fill="#48a9a5"/>
<path d="M842.1 456.2V452.3H972.5V456.2M907.2 452.3V456.2" fill="none" stroke="#fff" stroke-width="2" stroke-linecap="round" stroke-linejoin="round"/>
</g>
<g id="icons">
<g fill="none" stroke="#5fd0d0" stroke-width="1.4" stroke-linecap="round" stroke-linejoin="round"><circle cx="131.3" cy="260.1" r="4.3"/><circle cx="161.2" cy="260.1" r="4.3"/><path d="M126.6 261.5 C124 261.2 121.9 259.8 121.9 257.6 C121.9 254.8 122.6 253.4 124.5 252.4 C128.5 250.4 132.5 247.1 139 247.1 H147 C150.5 247.1 154 250.6 157 251.5 C161 252.6 165 253.2 166.5 253.9 C169.5 255.3 170.1 257 170 258.4 C169.9 260.3 168.4 261.3 165.9 261.6"/><path d="M140.3 262H155.6"/></g>
<g fill="none" stroke="#5fd0d0" stroke-width="1.2" stroke-linecap="round" stroke-linejoin="round" opacity="0.85"><path d="M337.8 235.3V263.6Q337.8 266.2 340.4 266.2H373"/><path d="M343.5 262.6V244.2Q343.5 241.8 345.95 241.8Q348.4 241.8 348.4 244.2V262.6"/><path d="M353.5 262.6V250.1Q353.5 247.7 355.95 247.7Q358.4 247.7 358.4 250.1V262.6"/><path d="M363.5 262.6V239.1Q363.5 236.7 365.95 236.7Q368.4 236.7 368.4 239.1V262.6"/></g>
<g fill="none" stroke="#5fd0d0" stroke-width="1.3" stroke-linecap="round"><circle cx="562.1" cy="250.2" r="16.4"/><path d="M566.9 242.1A8.3 8.3 0 1 0 566.9 258.3"/><path d="M554.8 248.5H564M554.8 251.3H564"/></g>
<g fill="none" stroke="#5fd0d0" stroke-width="1.3" stroke-linecap="round"><circle cx="765.4" cy="250.1" r="16.4"/><ellipse cx="761" cy="245.5" rx="2.7" ry="3.3"/><ellipse cx="770" cy="254.6" rx="2.7" ry="3.3"/><path d="M770.9 242.3L759.7 257.8"/></g>
<g fill="none" stroke="#5fd0d0" stroke-width="1.3" stroke-linecap="round" stroke-linejoin="round"><path d="M983 240.1L988.9 244.4L983 248.9"/><path d="M988.9 244.4H971.5A5.7 5.7 0 0 0 966.6 253.2"/><path d="M959 250.9L953.3 255.7L959 260.4"/><path d="M953.3 255.7H971.2A5.7 5.7 0 0 0 976 246.9"/></g>
</g>
<g id="labels">
<text x="33.81" y="78.80" font-size="29.70" textLength="258.38" lengthAdjust="spacingAndGlyphs" fill="#ffffff">Brand Group Core</text>
<text x="33.71" y="110.50" font-size="29.00" textLength="315.99" lengthAdjust="spacingAndGlyphs" fill="#ffffff" stroke="url(#g0)" stroke-width="0.65" stroke-linejoin="round">Financial Performance</text>
<text x="37.60" y="135.80" font-size="21.00" textLength="78.59" lengthAdjust="spacingAndGlyphs" fill="#66d3d5" stroke="url(#g1)" stroke-width="0.30" stroke-linejoin="round">H1 2023</text>
<text x="116.15" y="129.30" font-size="12.50" fill="#66d3d5" stroke="url(#g2)" stroke-width="0.30" stroke-linejoin="round">1</text>
<text x="127.74" y="135.80" font-size="21.00" textLength="110.37" lengthAdjust="spacingAndGlyphs" fill="#66d3d5" stroke="url(#g3)" stroke-width="0.30" stroke-linejoin="round">vs. H1 2024</text>
<text x="36.51" y="215.40" font-size="19.90" textLength="132.68" lengthAdjust="spacingAndGlyphs" fill="#e4ebee" stroke="url(#g4)" stroke-width="0.35" stroke-linejoin="round">Vehicle Sales</text>
<text x="169.78" y="209.50" font-size="12.50" fill="#e4ebee" stroke="url(#g5)" stroke-width="0.30" stroke-linejoin="round">2</text>
<text x="35.63" y="237.80" font-size="13.60" textLength="77.53" lengthAdjust="spacingAndGlyphs" fill="#dce4e8" stroke="url(#g6)" stroke-width="0.30" stroke-linejoin="round">[mill. units]</text>
<text x="240.21" y="215.30" font-size="19.90" textLength="54.78" lengthAdjust="spacingAndGlyphs" fill="#e4ebee" stroke="url(#g7)" stroke-width="0.35" stroke-linejoin="round">Sales</text>
<text x="239.90" y="238.70" font-size="19.90" textLength="87.76" lengthAdjust="spacingAndGlyphs" fill="#e4ebee" stroke="url(#g8)" stroke-width="0.35" stroke-linejoin="round">Revenue</text>
<text x="240.43" y="260.60" font-size="13.60" textLength="41.13" lengthAdjust="spacingAndGlyphs" fill="#dce4e8" stroke="url(#g9)" stroke-width="0.30" stroke-linejoin="round">[€ bn]</text>
<text x="444.90" y="215.30" font-size="19.90" textLength="102.92" lengthAdjust="spacingAndGlyphs" fill="#e4ebee" stroke="url(#g10)" stroke-width="0.35" stroke-linejoin="round">Operating</text>
<text x="444.54" y="238.70" font-size="19.90" textLength="55.83" lengthAdjust="spacingAndGlyphs" fill="#e4ebee" stroke="url(#g11)" stroke-width="0.35" stroke-linejoin="round">Profit</text>
<text x="501.79" y="232.80" font-size="12.00" fill="#e4ebee" stroke="url(#g12)" stroke-width="0.30" stroke-linejoin="round">3</text>
<text x="444.81" y="260.60" font-size="13.60" textLength="42.09" lengthAdjust="spacingAndGlyphs" fill="#dce4e8" stroke="url(#g13)" stroke-width="0.30" stroke-linejoin="round">[€ bn]</text>
<text x="649.34" y="215.30" font-size="19.90" textLength="99.63" lengthAdjust="spacingAndGlyphs" fill="#e4ebee" stroke="url(#g14)" stroke-width="0.35" stroke-linejoin="round">Return on</text>
<text x="649.82" y="238.70" font-size="19.90" textLength="54.27" lengthAdjust="spacingAndGlyphs" fill="#e4ebee" stroke="url(#g15)" stroke-width="0.35" stroke-linejoin="round">Sales</text>
<text x="704.79" y="232.80" font-size="12.00" fill="#e4ebee" stroke="url(#g16)" stroke-width="0.30" stroke-linejoin="round">3</text>
<text x="649.75" y="260.60" font-size="13.60" textLength="21.29" lengthAdjust="spacingAndGlyphs" fill="#dce4e8" stroke="url(#g17)" stroke-width="0.30" stroke-linejoin="round">[%]</text>
<text x="855.85" y="215.30" font-size="19.90" textLength="94.11" lengthAdjust="spacingAndGlyphs" fill="#e4ebee" stroke="url(#g18)" stroke-width="0.35" stroke-linejoin="round">Net Cash</text>
<text x="855.82" y="238.50" font-size="19.90" textLength="48.42" lengthAdjust="spacingAndGlyphs" fill="#e4ebee" stroke="url(#g19)" stroke-width="0.35" stroke-linejoin="round">Flow</text>
<text x="855.62" y="260.60" font-size="13.60" textLength="41.56" lengthAdjust="spacingAndGlyphs" fill="#dce4e8" stroke="url(#g20)" stroke-width="0.30" stroke-linejoin="round">[€ bn]</text>
<text x="62.17" y="331.50" font-size="37.10" textLength="72.96" lengthAdjust="spacingAndGlyphs" fill="#78eeec" stroke="url(#g21)" stroke-width="0.90" stroke-linejoin="round">1.8%</text>
<text x="269.45" y="331.60" font-size="37.10" textLength="79.08" lengthAdjust="spacingAndGlyphs" fill="#78eeec" stroke="url(#g22)" stroke-width="0.90" stroke-linejoin="round">0.4%</text>
<text x="467.47" y="331.60" font-size="37.10" textLength="90.96" lengthAdjust="spacingAndGlyphs" fill="#78eeec" stroke="url(#g23)" stroke-width="0.90" stroke-linejoin="round">-8.2%</text>
<text x="656.27" y="333.20" font-size="36.50" textLength="122.52" lengthAdjust="spacingAndGlyphs" fill="#78eeec" stroke="url(#g24)" stroke-width="0.90" stroke-linejoin="round">-0.5pp.</text>
<text x="46.92" y="398.60" font-size="15.40" textLength="30.43" lengthAdjust="spacingAndGlyphs" fill="#e2f6f3">2.45</text>
<text x="117.31" y="398.60" font-size="15.40" textLength="30.84" lengthAdjust="spacingAndGlyphs" fill="#e2f6f3">2.49</text>
<text x="251.93" y="398.60" font-size="15.40" textLength="29.99" lengthAdjust="spacingAndGlyphs" fill="#e2f6f3">68.8</text>
<text x="322.53" y="398.60" font-size="15.40" textLength="29.81" lengthAdjust="spacingAndGlyphs" fill="#e2f6f3">69.1</text>
<text x="460.91" y="398.60" font-size="15.40" textLength="30.06" lengthAdjust="spacingAndGlyphs" fill="#e2f6f3">3.77</text>
<text x="531.00" y="398.60" font-size="15.40" textLength="30.68" lengthAdjust="spacingAndGlyphs" fill="#e2f6f3">3.46</text>
<text x="665.18" y="398.60" font-size="15.40" textLength="21.56" lengthAdjust="spacingAndGlyphs" fill="#e2f6f3">5.5</text>
<text x="736.29" y="398.60" font-size="15.40" textLength="21.19" lengthAdjust="spacingAndGlyphs" fill="#e2f6f3">5.0</text>
<text x="861.23" y="398.60" font-size="15.40" textLength="21.33" lengthAdjust="spacingAndGlyphs" fill="#e2f6f3">2.6</text>
<text x="931.51" y="398.60" font-size="15.40" textLength="22.10" lengthAdjust="spacingAndGlyphs" fill="#e2f6f3">2.0</text>
<text x="41.88" y="472.80" font-size="13.50" textLength="51.71" lengthAdjust="spacingAndGlyphs" fill="#c9d6dc">H1 2023</text>
<text x="107.30" y="472.80" font-size="13.50" textLength="50.89" lengthAdjust="spacingAndGlyphs" fill="#c9d6dc">H1 2024</text>
<text x="247.99" y="472.80" font-size="13.50" textLength="50.98" lengthAdjust="spacingAndGlyphs" fill="#c9d6dc">H1 2023</text>
<text x="313.61" y="472.80" font-size="13.50" textLength="50.38" lengthAdjust="spacingAndGlyphs" fill="#c9d6dc">H1 2024</text>
<text x="453.49" y="472.80" font-size="13.50" textLength="51.19" lengthAdjust="spacingAndGlyphs" fill="#c9d6dc">H1 2023</text>
<text x="518.69" y="472.80" font-size="13.50" textLength="51.30" lengthAdjust="spacingAndGlyphs" fill="#c9d6dc">H1 2024</text>
<text x="658.49" y="472.80" font-size="13.50" textLength="50.98" lengthAdjust="spacingAndGlyphs" fill="#c9d6dc">H1 2023</text>
<text x="723.89" y="472.80" font-size="13.50" textLength="50.99" lengthAdjust="spacingAndGlyphs" fill="#c9d6dc">H1 2024</text>
<text x="848.49" y="472.80" font-size="13.50" textLength="50.98" lengthAdjust="spacingAndGlyphs" fill="#c9d6dc">H1 2023</text>
<text x="913.89" y="472.80" font-size="13.50" textLength="50.99" lengthAdjust="spacingAndGlyphs" fill="#c9d6dc">H1 2024</text>
<text x="35.91" y="536.50" font-size="11.40" textLength="177.81" lengthAdjust="spacingAndGlyphs" fill="#cdd5dc">1 previous year adjusted (IFRS17)</text>
<text x="240.20" y="536.50" font-size="11.40" textLength="133.63" lengthAdjust="spacingAndGlyphs" fill="#cdd5dc">2 without China business</text>
<text x="398.85" y="536.50" font-size="11.40" textLength="269.18" lengthAdjust="spacingAndGlyphs" fill="#cdd5dc">3 before special items, incl. restructuring measures</text>
<text x="847.41" y="563.00" font-size="11.30" textLength="78.54" lengthAdjust="spacingAndGlyphs" fill="#e4e4e4" font-weight="700" stroke="url(#g25)" stroke-width="0.30" stroke-linejoin="round">BRAND GROUP</text>
<text x="928.31" y="566.60" font-size="22.70" textLength="62.91" lengthAdjust="spacingAndGlyphs" fill="#f0f0f0" stroke="url(#g26)" stroke-width="0.35" stroke-linejoin="round">CORE</text>
</g>
</svg>
</div>
</body>
</html>
